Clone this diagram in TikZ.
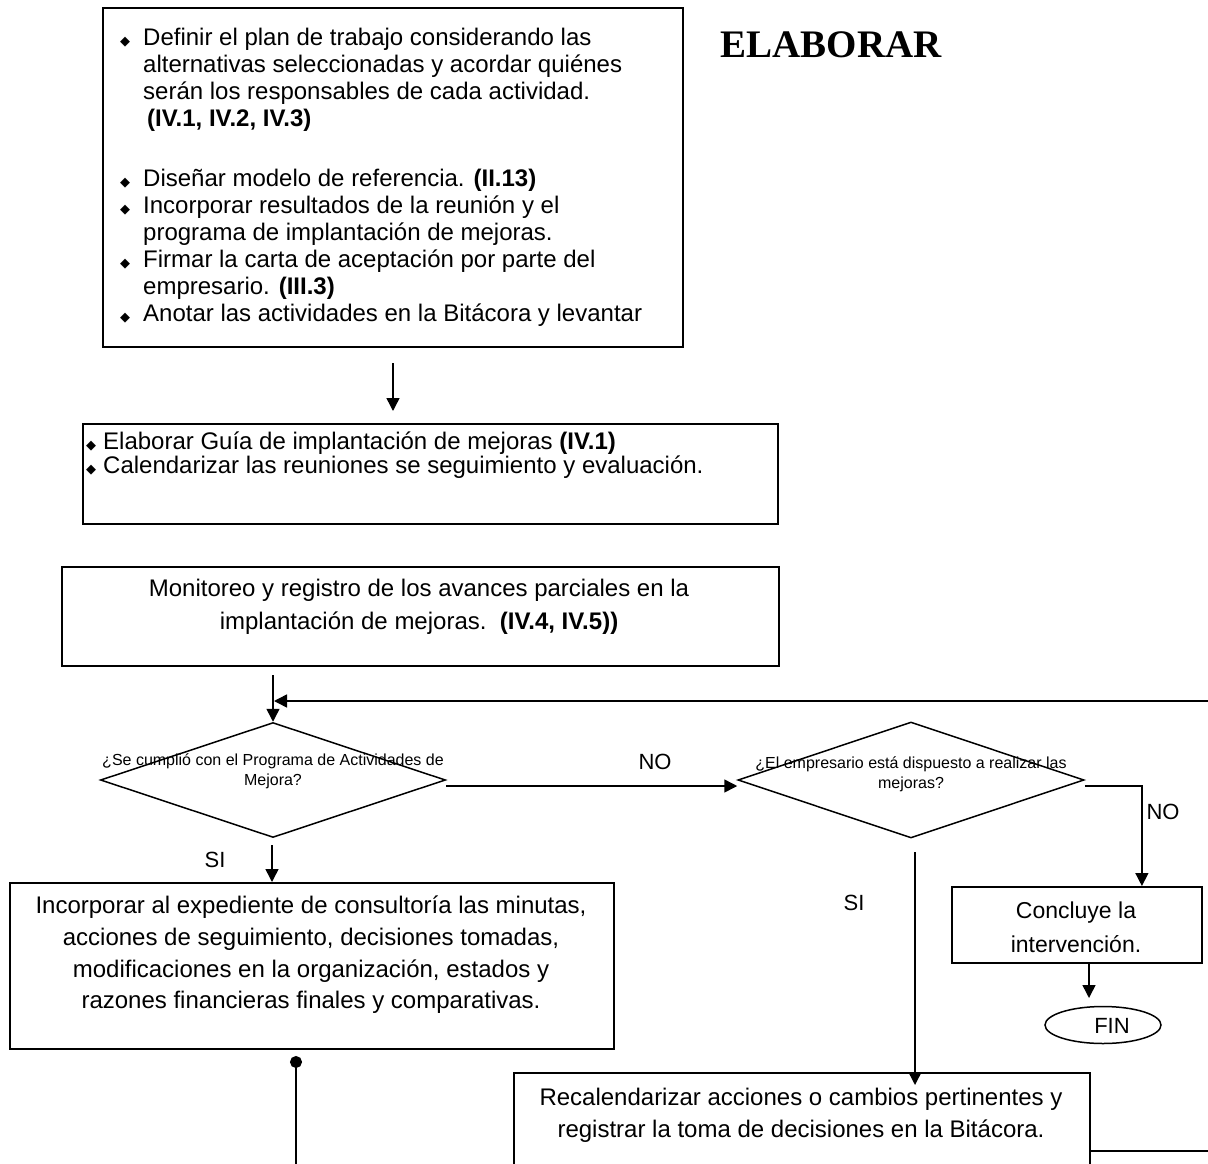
\documentclass[tikz,border=0pt]{standalone}
\usepackage{fontspec}
\setmainfont{Liberation Sans}
\newfontfamily\titlefont{Liberation Serif}
\newfontfamily\dvsymb{DejaVu Sans}
\usetikzlibrary{shapes.geometric,arrows.meta}

% list bullet and hanging indent
\newcommand\bul[1][23pt]{\makebox[#1][l]{\raisebox{0.5pt}{\dvsymb\fontsize{13}{13}\selectfont ◆}}}
\newcommand\ind[1][23pt]{\hspace*{#1}}

\tikzset{
  box/.style={draw, line width=1.8pt, inner sep=0pt, anchor=north west},
  dia/.style={draw, diamond, line width=1.5pt, inner sep=0pt,
              minimum width=345pt, minimum height=115pt},
  conn/.style={line width=1.5pt},
  arr/.style={conn, -{Triangle[length=13pt,width=13pt]}},
  txt/.style={inner sep=0pt, font=\fontsize{24}{27}\selectfont},
  small/.style={inner sep=0pt, align=center, font=\fontsize{16}{20}\selectfont},
  lbl/.style={inner sep=0pt, font=\fontsize{22}{22}\selectfont},
}

\begin{document}
\begin{tikzpicture}[x=1pt, y=-1pt]
\useasboundingbox (0,0) rectangle (1208,1164);
\clip (0,0) rectangle (1208,1164);

% title
\node[anchor=base, inner sep=0pt, font=\titlefont\bfseries\fontsize{39}{39}\selectfont] (title) at (831,58) {ELABORAR};

% process boxes
\node[box, minimum width=580pt, minimum height=339pt] (plan) at (102,7) {};
\node[box, minimum width=695pt, minimum height=100pt] (guia) at (82,423) {};
\node[box, minimum width=717pt, minimum height=99pt] (monit) at (61,566) {};
\node[box, minimum width=604pt, minimum height=166pt] (exped) at (9,882) {};
\node[box, minimum width=250pt, minimum height=76pt] (concl) at (951,886) {};
\node[box, minimum width=576pt, minimum height=120pt] (recal) at (513,1072) {};
\node[draw, ellipse, line width=1.5pt, inner sep=0pt,
      minimum width=116pt, minimum height=37pt] (fin) at (1103,1025) {};

% decisions
\node[dia] (q1) at (273,780) {};
\node[dia, minimum width=346pt, minimum height=116pt] (q2) at (911,780) {};

% box texts
\node[txt, anchor=north west, align=left] (plantxt) at (120,28) {%
\bul Definir el plan de trabajo considerando las\\
\ind alternativas seleccionadas y acordar quiénes\\
\ind serán los responsables de cada actividad.\\
\ind[27pt]\textbf{(IV.1, IV.2, IV.3)}\\[33pt]
\bul Diseñar modelo de referencia. \textbf{(II.13)}\\
\bul Incorporar resultados de la reunión y el\\
\ind programa de implantación de mejoras.\\
\bul Firmar la carta de aceptación por parte del\\
\ind empresario. \textbf{(III.3)}\\
\bul Anotar las actividades en la Bitácora y levantar};

\node[txt, anchor=north west, align=left, font=\fontsize{24}{24}\selectfont] (guiatxt) at (86,432) {%
\bul[17pt]Elaborar Guía de implantación de mejoras \textbf{(IV.1)}\\
\bul[17pt]Calendarizar las reuniones se seguimiento y evaluación.};

\node[txt, align=center, font=\fontsize{24}{33}\selectfont] (monittxt) at (419,607) {%
Monitoreo y registro de los avances parciales en la\\
implantación de mejoras.\ \ \textbf{(IV.4, IV.5))}};

\node[txt, align=center, font=\fontsize{24}{31.7}\selectfont] (expedtxt) at (311,955) {%
Incorporar al expediente de consultoría las minutas,\\
acciones de seguimiento, decisiones tomadas,\\
modificaciones en la organización, estados y\\
razones financieras finales y comparativas.};

\node[txt, align=center, font=\fontsize{23}{34}\selectfont] (concltxt) at (1076,927) {%
Concluye la\\ intervención.};

\node[txt, align=center, font=\fontsize{24}{32}\selectfont] (recaltxt) at (801,1115) {%
Recalendarizar acciones o cambios pertinentes y\\
registrar la toma de decisiones en la Bitácora.};

\node[lbl] (fintxt) at (1112,1026) {FIN};

\node[small] (q1txt) at (273,771) {¿Se cumplió con el Programa de Actividades de\\ Mejora?};
\node[small] (q2txt) at (911,774) {¿El empresario está dispuesto a realizar las\\ mejoras?};

% branch labels
\node[lbl] (no1) at (655,762) {NO};
\node[lbl] (no2) at (1163,812) {NO};
\node[lbl] (si1) at (215,860) {SI};
\node[lbl] (si2) at (854,903) {SI};

% connectors
\coordinate (a1) at (393,363);
\coordinate (a2) at (393,411);
\draw[arr] (a1) -- (a2);

\coordinate (m1) at (273,675);
\draw[arr] (m1) -- (q1.north);

\coordinate (r1) at (1210,701);
\coordinate (r2) at (274,701);
\draw[arr] (r1) -- (r2);

\draw[arr] ([yshift=-6pt]q1.east) -- ([yshift=-6pt]q2.west);
\draw[arr] ([yshift=-6pt]q2.east) -| ([xshift=65pt]concl.north);

\coordinate (s2a) at (915,852);
\coordinate (s2b) at (915,1085);
\draw[arr] (s2a) -- (s2b);

\coordinate (s1a) at (272,845);
\draw[arr] (s1a) -- (s1a |- exped.north);

\coordinate (f1) at (1089,998);
\draw[arr] (concl.south -| f1) -- (f1);

\coordinate (d0) at (296,1056);
\coordinate (d1) at (296,1170);
\draw[conn, {Circle[length=12pt]}-] (d0) -- (d1);

\coordinate (rr) at (1210,1151);
\draw[conn] (recal.east |- rr) -- (rr);
\end{tikzpicture}
\end{document}
